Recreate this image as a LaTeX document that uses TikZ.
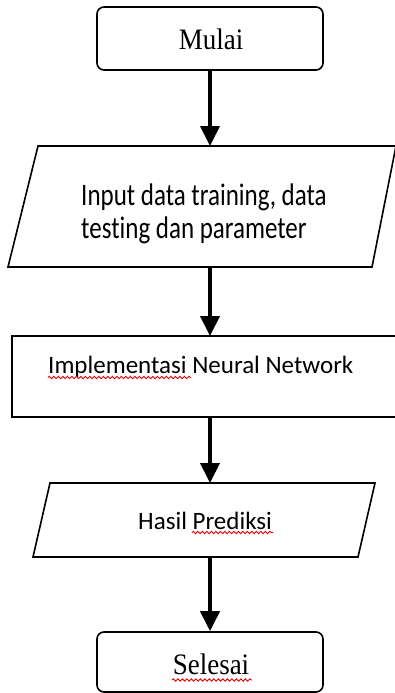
\documentclass[tikz,border=0pt]{standalone}
\usepackage{fontspec}
\setmainfont{Liberation Serif}
\newfontfamily\calibfont[Ligatures={NoCommon}]{Carlito}
\usetikzlibrary{arrows.meta,decorations.pathmorphing}
\begin{document}
\begin{tikzpicture}[x=1pt,y=-1pt,
  outline/.style={draw=black, line width=1.6pt, line join=miter},
  term/.style={outline, rounded corners=7pt, minimum width=226pt, minimum height=63pt, inner sep=0pt},
  frame/.style={inner sep=0pt, outer sep=0pt},
  flow/.style={draw=black, line width=4pt, -{Triangle[width=19pt,length=20pt]}},
  serif/.style={font=\fontsize{27}{27}\selectfont, inner sep=0pt},
  sans/.style={font=\calibfont\fontsize{25}{30}\selectfont, inner sep=0pt},
  spell/.style={draw=red!90!black, line width=0.9pt, decorate, decoration={snake, amplitude=1.2pt, segment length=4.5pt}}
]
\useasboundingbox (0,0) rectangle (395,693);
\clip (0,0) rectangle (395,693);

% start
\node[term] (mulai) at (210,38.5) {};
\node[serif, anchor=base] (mulaiT) at (211,49) {\scalebox{1}[1.1]{Mulai}};

% input
\node[frame, minimum width=388pt, minimum height=121pt] (inp) at (202,206.5) {};
\draw[outline] ([xshift=30pt]inp.north west) -- (inp.north east) -- ([xshift=-24pt]inp.south east) -- (inp.south west) -- cycle;
\node[sans, anchor=base west] (inpT) at (81,205) {\scalebox{1}[1.25]{\fontsize{25}{26.4}\selectfont\begin{tabular}[t]{@{}l@{}}Input data training, data\\testing dan parameter\end{tabular}}};

% process
\node[outline, frame, minimum width=386pt, minimum height=81pt, anchor=north west] (impl) at (12,336) {};
\node[sans, anchor=base west] (implT) at (48,373) {Implementasi Neural Network};
\draw[spell] (48,377.5) -- (191,377.5);

% output
\node[frame, minimum width=342pt, minimum height=74pt] (hasil) at (204,520) {};
\draw[outline] ([xshift=17pt]hasil.north west) -- (hasil.north east) -- ([xshift=-17pt]hasil.south east) -- (hasil.south west) -- cycle;
\node[sans, anchor=base west] (hasilT) at (138,529) {Hasil Prediksi};
\draw[spell] (192,532.5) -- (273,532.5);

% end
\node[term, minimum height=60pt] (selesai) at (210,662) {};
\node[serif, anchor=base] (selesaiT) at (211,674) {\scalebox{1}[1.1]{Selesai}};
\draw[spell] (172,680) -- (252,680);

% connectors
\draw[flow] (mulai.south) -- (mulai.south |- inp.north);
\draw[flow] (inp.south -| mulai.south) -- (mulai.south |- impl.north);
\draw[flow] (impl.south -| mulai.south) -- (mulai.south |- hasil.north);
\draw[flow] (hasil.south -| mulai.south) -- (selesai.north);
\end{tikzpicture}
\end{document}
